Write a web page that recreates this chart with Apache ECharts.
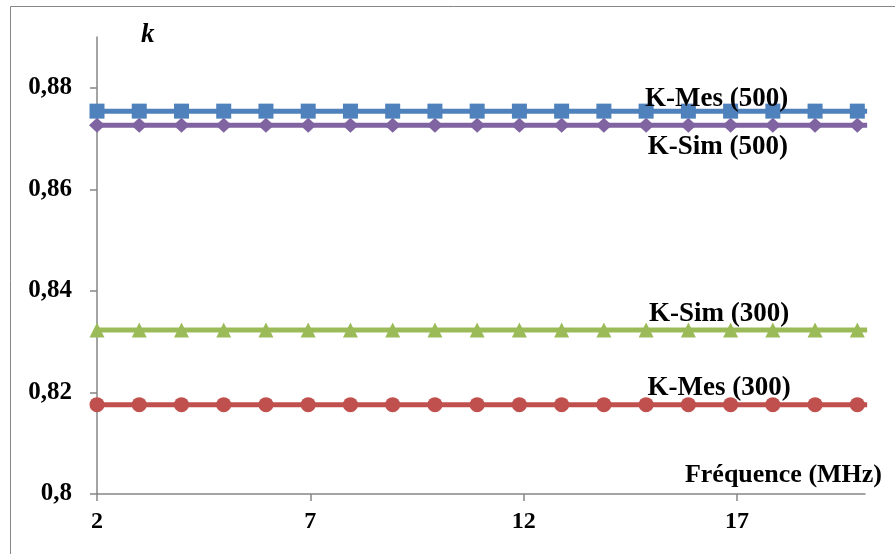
<!DOCTYPE html>
<html>
<head>
<meta charset="utf-8">
<script src="https://cdn.jsdelivr.net/npm/echarts@6/dist/echarts.min.js"></script>
<style>html,body{margin:0;padding:0;background:#fff;}#c{width:895px;height:554px;}</style>
</head>
<body>
<div id="c"></div>
<script>
// Data
const freq = [2, 2.99, 3.98, 4.97, 5.96, 6.95, 7.94, 8.93, 9.92, 10.91, 11.9, 12.89, 13.88, 14.87, 15.86, 16.85, 17.84, 18.83, 19.82, 20.05];
const kMes500 = [0.8754, 0.8754, 0.8754, 0.8754, 0.8754, 0.8754, 0.8754, 0.8754, 0.8754, 0.8754, 0.8754, 0.8754, 0.8754, 0.8754, 0.8754, 0.8754, 0.8754, 0.8754, 0.8754, 0.8754];
const kSim500 = [0.8726, 0.8726, 0.8726, 0.8726, 0.8726, 0.8726, 0.8726, 0.8726, 0.8726, 0.8726, 0.8726, 0.8726, 0.8726, 0.8726, 0.8726, 0.8726, 0.8726, 0.8726, 0.8726, 0.8726];
const kSim300 = [0.8323, 0.8323, 0.8323, 0.8323, 0.8323, 0.8323, 0.8323, 0.8323, 0.8323, 0.8323, 0.8323, 0.8323, 0.8323, 0.8323, 0.8323, 0.8323, 0.8323, 0.8323, 0.8323, 0.8323];
const kMes300 = [0.8176, 0.8176, 0.8176, 0.8176, 0.8176, 0.8176, 0.8176, 0.8176, 0.8176, 0.8176, 0.8176, 0.8176, 0.8176, 0.8176, 0.8176, 0.8176, 0.8176, 0.8176, 0.8176, 0.8176];
const xTicks = [2, 7, 12, 17];
const yTicks = [0.8, 0.82, 0.84, 0.86, 0.88];
const seriesNames = ['K-Mes (500)', 'K-Sim (500)', 'K-Sim (300)', 'K-Mes (300)'];
// label anchor positions (data units)
const labelAnchors = [[16.52, 0.8778], [16.55, 0.8683], [16.58, 0.8355], [16.58, 0.8209]];

const FONT = '"Liberation Serif", "Times New Roman", serif';
const AX = '#868686';

function pairs(ys) {
  return freq.map((x, i) => {
    const d = { value: [x, ys[i]] };
    if (i === freq.length - 1) d.symbol = 'none';
    return d;
  });
}

function mk(name, ys, color, symbol, size, anchor, z) {
  return {
    name: name,
    type: 'line',
    data: pairs(ys),
    symbol: symbol,
    symbolSize: size,
    showAllSymbol: true,
    z: z,
    lineStyle: { color: color, width: 5 },
    itemStyle: { color: color },
    animation: false,
    markPoint: {
      symbol: 'circle',
      symbolSize: 0,
      silent: true,
      data: [{ coord: anchor, value: name }],
      label: {
        show: true,
        position: 'inside',
        formatter: name,
        fontFamily: FONT,
        fontWeight: 'bold',
        fontSize: 27,
        color: '#000'
      }
    }
  };
}

const chart = echarts.init(document.getElementById('c'), null, { renderer: 'canvas' });
chart.setOption({
  backgroundColor: '#fff',
  animation: false,
  graphic: [{
    type: 'rect',
    shape: { x: 10.5, y: 6.5, width: 900, height: 560 },
    style: { fill: 'none', stroke: AX, lineWidth: 1 },
    silent: true,
    z: -10
  }],
  grid: { left: 97, right: 30, top: 37, bottom: 60 },
  xAxis: {
    type: 'value',
    min: 2,
    max: 20,
    name: 'Fréquence (MHz)',
    nameLocation: 'end',
    nameGap: 17,
    nameTextStyle: {
      fontFamily: FONT, fontWeight: 'bold', fontSize: 26, color: '#000',
      align: 'right', verticalAlign: 'bottom', padding: [0, 0, 6, 0]
    },
    splitLine: { show: false },
    axisLine: { lineStyle: { color: AX, width: 1.5 } },
    axisTick: { show: true, length: 7, inside: false, customValues: xTicks, lineStyle: { color: AX, width: 1.5 } },
    axisLabel: {
      customValues: xTicks,
      margin: 16,
      fontFamily: FONT, fontWeight: 'bold', fontSize: 24, color: '#000'
    }
  },
  yAxis: {
    type: 'value',
    min: 0.8,
    max: 0.89,
    name: 'k',
    nameLocation: 'end',
    nameGap: 2,
    nameTextStyle: {
      fontFamily: FONT, fontWeight: 'bold', fontStyle: 'italic', fontSize: 27, color: '#000',
      align: 'left', verticalAlign: 'middle', padding: [0, 0, 0, 44]
    },
    splitLine: { show: false },
    axisLine: { show: true, lineStyle: { color: AX, width: 1.5 } },
    axisTick: { show: true, length: 7, customValues: yTicks, lineStyle: { color: AX, width: 1.5 } },
    axisLabel: {
      customValues: yTicks,
      margin: 25,
      fontFamily: FONT, fontWeight: 'bold', fontSize: 25, color: '#000',
      formatter: v => String(parseFloat(Number(v).toFixed(3))).replace('.', ',')
    }
  },
  series: [
    mk(seriesNames[1], kSim500, '#8064A2', 'diamond', [16, 15], labelAnchors[1], 2),
    mk(seriesNames[0], kMes500, '#4F81BD', 'rect', 15, labelAnchors[0], 3),
    mk(seriesNames[2], kSim300, '#9BBB59', 'triangle', [15, 15], labelAnchors[2], 2),
    mk(seriesNames[3], kMes300, '#C0504D', 'circle', 15, labelAnchors[3], 2)
  ]
});
</script>
</body>
</html>
